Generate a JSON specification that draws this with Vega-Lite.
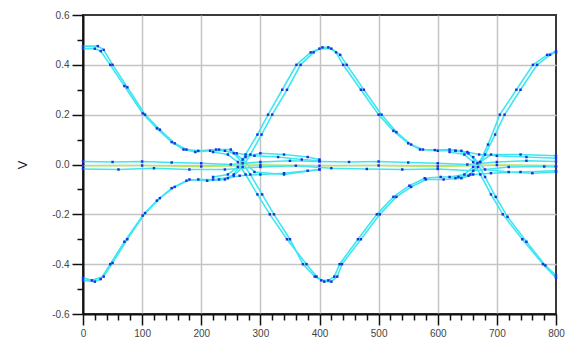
{
"$schema":"https://vega.github.io/schema/vega-lite/v6.json",
"width":473,"height":299,
"autosize":{"type":"none"},
"padding":{"left":83,"top":15,"right":21,"bottom":29},
"background":"white",
"config":{"view":{"stroke":"#3a3a3a","strokeWidth":2},"font":"Liberation Sans"},
"data":{"values":[
{"t":"L1","k":"edge","x":0,"y":0.465},{"t":"L1","k":"edge","x":20,"y":0.465},{"t":"L1","k":"edge","x":30,"y":0.455},{"t":"L1","k":"edge","x":46,"y":0.40},{"t":"L1","k":"edge","x":70,"y":0.315},{"t":"L1","k":"edge","x":101,"y":0.205},{"t":"L1","k":"edge","x":125,"y":0.145},{"t":"L1","k":"edge","x":150,"y":0.09},{"t":"L1","k":"edge","x":170,"y":0.06},{"t":"L1","k":"edge","x":190,"y":0.05},{"t":"L1","k":"edge","x":215,"y":0.055},{"t":"L1","k":"edge","x":240,"y":0.055},{"t":"L1","k":"edge","x":260,"y":0.045},{"t":"L1","k":"edge","x":290,"y":0.035},{"t":"L1","k":"edge","x":330,"y":0.03},{"t":"L1","k":"edge","x":370,"y":0.02},{"t":"L1","k":"edge","x":400,"y":0.015},
{"t":"L1b","k":"edge","x":0,"y":0.475},{"t":"L1b","k":"edge","x":25,"y":0.475},{"t":"L1b","k":"edge","x":35,"y":0.46},{"t":"L1b","k":"edge","x":50,"y":0.40},{"t":"L1b","k":"edge","x":75,"y":0.31},{"t":"L1b","k":"edge","x":105,"y":0.20},{"t":"L1b","k":"edge","x":130,"y":0.14},{"t":"L1b","k":"edge","x":155,"y":0.085},{"t":"L1b","k":"edge","x":175,"y":0.06},{"t":"L1b","k":"edge","x":195,"y":0.055},{"t":"L1b","k":"edge","x":225,"y":0.06},{"t":"L1b","k":"edge","x":250,"y":0.06},{"t":"L1b","k":"edge","x":270,"y":0.02},{"t":"L1b","k":"edge","x":290,"y":-0.03},{"t":"L1b","k":"edge","x":340,"y":-0.04},{"t":"L1b","k":"edge","x":400,"y":-0.02},
{"t":"L2","k":"edge","x":0,"y":-0.465},{"t":"L2","k":"edge","x":20,"y":-0.47},{"t":"L2","k":"edge","x":30,"y":-0.46},{"t":"L2","k":"edge","x":46,"y":-0.40},{"t":"L2","k":"edge","x":70,"y":-0.31},{"t":"L2","k":"edge","x":101,"y":-0.205},{"t":"L2","k":"edge","x":125,"y":-0.145},{"t":"L2","k":"edge","x":150,"y":-0.095},{"t":"L2","k":"edge","x":175,"y":-0.065},{"t":"L2","k":"edge","x":195,"y":-0.06},{"t":"L2","k":"edge","x":220,"y":-0.06},{"t":"L2","k":"edge","x":245,"y":-0.055},{"t":"L2","k":"edge","x":265,"y":-0.045},{"t":"L2","k":"edge","x":300,"y":-0.04},{"t":"L2","k":"edge","x":340,"y":-0.035},{"t":"L2","k":"edge","x":380,"y":-0.025},{"t":"L2","k":"edge","x":400,"y":-0.02},
{"t":"L2b","k":"edge","x":0,"y":-0.455},{"t":"L2b","k":"edge","x":15,"y":-0.465},{"t":"L2b","k":"edge","x":35,"y":-0.45},{"t":"L2b","k":"edge","x":50,"y":-0.395},{"t":"L2b","k":"edge","x":75,"y":-0.30},{"t":"L2b","k":"edge","x":105,"y":-0.195},{"t":"L2b","k":"edge","x":130,"y":-0.135},{"t":"L2b","k":"edge","x":155,"y":-0.09},{"t":"L2b","k":"edge","x":180,"y":-0.06},{"t":"L2b","k":"edge","x":210,"y":-0.065},{"t":"L2b","k":"edge","x":240,"y":-0.06},{"t":"L2b","k":"edge","x":255,"y":-0.04},{"t":"L2b","k":"edge","x":275,"y":0.03},{"t":"L2b","k":"edge","x":300,"y":0.045},{"t":"L2b","k":"edge","x":340,"y":0.04},{"t":"L2b","k":"edge","x":380,"y":0.03},{"t":"L2b","k":"edge","x":400,"y":0.02},
{"t":"R1","k":"edge","x":220,"y":-0.05},{"t":"R1","k":"edge","x":245,"y":-0.04},{"t":"R1","k":"edge","x":262,"y":-0.01},{"t":"R1","k":"edge","x":275,"y":0.04},{"t":"R1","k":"edge","x":295,"y":0.12},{"t":"R1","k":"edge","x":313,"y":0.20},{"t":"R1","k":"edge","x":337,"y":0.30},{"t":"R1","k":"edge","x":361,"y":0.40},{"t":"R1","k":"edge","x":385,"y":0.45},{"t":"R1","k":"edge","x":400,"y":0.465},{"t":"R1","k":"edge","x":420,"y":0.465},{"t":"R1","k":"edge","x":435,"y":0.44},{"t":"R1","k":"edge","x":446,"y":0.40},{"t":"R1","k":"edge","x":475,"y":0.30},{"t":"R1","k":"edge","x":505,"y":0.20},{"t":"R1","k":"edge","x":530,"y":0.13},{"t":"R1","k":"edge","x":555,"y":0.08},{"t":"R1","k":"edge","x":575,"y":0.06},{"t":"R1","k":"edge","x":600,"y":0.055},{"t":"R1","k":"edge","x":630,"y":0.055},{"t":"R1","k":"edge","x":650,"y":0.05},{"t":"R1","k":"edge","x":670,"y":0.04},{"t":"R1","k":"edge","x":700,"y":0.035},{"t":"R1","k":"edge","x":750,"y":0.03},{"t":"R1","k":"edge","x":800,"y":0.025},
{"t":"R1b","k":"edge","x":230,"y":-0.06},{"t":"R1b","k":"edge","x":255,"y":-0.045},{"t":"R1b","k":"edge","x":270,"y":-0.01},{"t":"R1b","k":"edge","x":283,"y":0.04},{"t":"R1b","k":"edge","x":302,"y":0.12},{"t":"R1b","k":"edge","x":320,"y":0.20},{"t":"R1b","k":"edge","x":345,"y":0.30},{"t":"R1b","k":"edge","x":368,"y":0.40},{"t":"R1b","k":"edge","x":390,"y":0.45},{"t":"R1b","k":"edge","x":405,"y":0.47},{"t":"R1b","k":"edge","x":415,"y":0.47},{"t":"R1b","k":"edge","x":428,"y":0.45},{"t":"R1b","k":"edge","x":440,"y":0.40},{"t":"R1b","k":"edge","x":470,"y":0.30},{"t":"R1b","k":"edge","x":500,"y":0.20},{"t":"R1b","k":"edge","x":525,"y":0.135},{"t":"R1b","k":"edge","x":550,"y":0.085},{"t":"R1b","k":"edge","x":570,"y":0.06},{"t":"R1b","k":"edge","x":595,"y":0.058},{"t":"R1b","k":"edge","x":620,"y":0.06},{"t":"R1b","k":"edge","x":640,"y":0.055},{"t":"R1b","k":"edge","x":660,"y":0.03},{"t":"R1b","k":"edge","x":680,"y":-0.02},{"t":"R1b","k":"edge","x":720,"y":-0.03},{"t":"R1b","k":"edge","x":760,"y":-0.035},{"t":"R1b","k":"edge","x":800,"y":-0.03},
{"t":"F1","k":"edge","x":220,"y":0.05},{"t":"F1","k":"edge","x":245,"y":0.04},{"t":"F1","k":"edge","x":262,"y":0.01},{"t":"F1","k":"edge","x":275,"y":-0.04},{"t":"F1","k":"edge","x":295,"y":-0.12},{"t":"F1","k":"edge","x":316,"y":-0.20},{"t":"F1","k":"edge","x":345,"y":-0.30},{"t":"F1","k":"edge","x":378,"y":-0.40},{"t":"F1","k":"edge","x":395,"y":-0.45},{"t":"F1","k":"edge","x":408,"y":-0.47},{"t":"F1","k":"edge","x":420,"y":-0.47},{"t":"F1","k":"edge","x":430,"y":-0.45},{"t":"F1","k":"edge","x":438,"y":-0.40},{"t":"F1","k":"edge","x":470,"y":-0.30},{"t":"F1","k":"edge","x":502,"y":-0.20},{"t":"F1","k":"edge","x":530,"y":-0.13},{"t":"F1","k":"edge","x":555,"y":-0.09},{"t":"F1","k":"edge","x":580,"y":-0.06},{"t":"F1","k":"edge","x":610,"y":-0.06},{"t":"F1","k":"edge","x":640,"y":-0.055},{"t":"F1","k":"edge","x":660,"y":-0.04},{"t":"F1","k":"edge","x":690,"y":-0.035},{"t":"F1","k":"edge","x":740,"y":-0.03},{"t":"F1","k":"edge","x":800,"y":-0.025},
{"t":"F1b","k":"edge","x":230,"y":0.06},{"t":"F1b","k":"edge","x":255,"y":0.045},{"t":"F1b","k":"edge","x":270,"y":0.005},{"t":"F1b","k":"edge","x":283,"y":-0.04},{"t":"F1b","k":"edge","x":303,"y":-0.12},{"t":"F1b","k":"edge","x":323,"y":-0.20},{"t":"F1b","k":"edge","x":350,"y":-0.30},{"t":"F1b","k":"edge","x":372,"y":-0.40},{"t":"F1b","k":"edge","x":392,"y":-0.45},{"t":"F1b","k":"edge","x":403,"y":-0.465},{"t":"F1b","k":"edge","x":415,"y":-0.465},{"t":"F1b","k":"edge","x":425,"y":-0.45},{"t":"F1b","k":"edge","x":434,"y":-0.40},{"t":"F1b","k":"edge","x":465,"y":-0.30},{"t":"F1b","k":"edge","x":497,"y":-0.20},{"t":"F1b","k":"edge","x":525,"y":-0.13},{"t":"F1b","k":"edge","x":552,"y":-0.085},{"t":"F1b","k":"edge","x":578,"y":-0.055},{"t":"F1b","k":"edge","x":605,"y":-0.05},{"t":"F1b","k":"edge","x":635,"y":-0.05},{"t":"F1b","k":"edge","x":655,"y":-0.04},{"t":"F1b","k":"edge","x":672,"y":0.01},{"t":"F1b","k":"edge","x":690,"y":0.04},{"t":"F1b","k":"edge","x":740,"y":0.04},{"t":"F1b","k":"edge","x":800,"y":0.035},
{"t":"R2","k":"edge","x":620,"y":-0.05},{"t":"R2","k":"edge","x":645,"y":-0.04},{"t":"R2","k":"edge","x":660,"y":-0.01},{"t":"R2","k":"edge","x":671,"y":0.01},{"t":"R2","k":"edge","x":685,"y":0.08},{"t":"R2","k":"edge","x":705,"y":0.20},{"t":"R2","k":"edge","x":733,"y":0.30},{"t":"R2","k":"edge","x":761,"y":0.40},{"t":"R2","k":"edge","x":785,"y":0.44},{"t":"R2","k":"edge","x":800,"y":0.455},
{"t":"R2b","k":"edge","x":630,"y":-0.055},{"t":"R2b","k":"edge","x":652,"y":-0.045},{"t":"R2b","k":"edge","x":668,"y":-0.01},{"t":"R2b","k":"edge","x":680,"y":0.04},{"t":"R2b","k":"edge","x":697,"y":0.12},{"t":"R2b","k":"edge","x":713,"y":0.20},{"t":"R2b","k":"edge","x":740,"y":0.30},{"t":"R2b","k":"edge","x":768,"y":0.40},{"t":"R2b","k":"edge","x":790,"y":0.44},{"t":"R2b","k":"edge","x":800,"y":0.45},
{"t":"F2","k":"edge","x":620,"y":0.05},{"t":"F2","k":"edge","x":645,"y":0.04},{"t":"F2","k":"edge","x":660,"y":0.01},{"t":"F2","k":"edge","x":672,"y":-0.04},{"t":"F2","k":"edge","x":690,"y":-0.12},{"t":"F2","k":"edge","x":710,"y":-0.20},{"t":"F2","k":"edge","x":743,"y":-0.30},{"t":"F2","k":"edge","x":778,"y":-0.40},{"t":"F2","k":"edge","x":800,"y":-0.455},
{"t":"F2b","k":"edge","x":630,"y":0.055},{"t":"F2b","k":"edge","x":652,"y":0.045},{"t":"F2b","k":"edge","x":667,"y":0.005},{"t":"F2b","k":"edge","x":680,"y":-0.05},{"t":"F2b","k":"edge","x":698,"y":-0.13},{"t":"F2b","k":"edge","x":718,"y":-0.21},{"t":"F2b","k":"edge","x":750,"y":-0.31},{"t":"F2b","k":"edge","x":782,"y":-0.405},{"t":"F2b","k":"edge","x":800,"y":-0.445},
{"t":"Z1","k":"edge","x":0,"y":0.012},{"t":"Z1","k":"edge","x":50,"y":0.01},{"t":"Z1","k":"edge","x":100,"y":0.012},{"t":"Z1","k":"edge","x":150,"y":0.008},{"t":"Z1","k":"edge","x":200,"y":0.005},{"t":"Z1","k":"edge","x":250,"y":0.0},{"t":"Z1","k":"edge","x":300,"y":0.01},{"t":"Z1","k":"edge","x":350,"y":0.015},{"t":"Z1","k":"edge","x":400,"y":0.012},{"t":"Z1","k":"edge","x":450,"y":0.01},{"t":"Z1","k":"edge","x":500,"y":0.012},{"t":"Z1","k":"edge","x":550,"y":0.008},{"t":"Z1","k":"edge","x":600,"y":0.005},{"t":"Z1","k":"edge","x":650,"y":0.0},{"t":"Z1","k":"edge","x":700,"y":0.01},{"t":"Z1","k":"edge","x":750,"y":0.015},{"t":"Z1","k":"edge","x":800,"y":0.012},
{"t":"Z2","k":"core","x":0,"y":-0.005},{"t":"Z2","k":"core","x":100,"y":-0.004},{"t":"Z2","k":"core","x":200,"y":-0.008},{"t":"Z2","k":"core","x":300,"y":-0.002},{"t":"Z2","k":"core","x":400,"y":-0.005},{"t":"Z2","k":"core","x":500,"y":-0.004},{"t":"Z2","k":"core","x":600,"y":-0.008},{"t":"Z2","k":"core","x":700,"y":-0.002},{"t":"Z2","k":"core","x":800,"y":-0.005},
{"t":"Z3","k":"edge","x":0,"y":-0.018},{"t":"Z3","k":"edge","x":60,"y":-0.02},{"t":"Z3","k":"edge","x":120,"y":-0.015},{"t":"Z3","k":"edge","x":180,"y":-0.02},{"t":"Z3","k":"edge","x":240,"y":-0.02},{"t":"Z3","k":"edge","x":300,"y":-0.01},{"t":"Z3","k":"edge","x":360,"y":-0.005},{"t":"Z3","k":"edge","x":420,"y":-0.015},{"t":"Z3","k":"edge","x":480,"y":-0.018},{"t":"Z3","k":"edge","x":540,"y":-0.02},{"t":"Z3","k":"edge","x":600,"y":-0.018},{"t":"Z3","k":"edge","x":660,"y":-0.025},{"t":"Z3","k":"edge","x":720,"y":-0.01},{"t":"Z3","k":"edge","x":780,"y":-0.008},{"t":"Z3","k":"edge","x":800,"y":-0.01}
]},
"layer":[
{"mark":{"type":"line","strokeWidth":1.6},
 "encoding":{
  "x":{"field":"x","type":"quantitative","scale":{"domain":[0,800],"nice":false,"zero":false},
       "axis":{"values":[0,100,200,300,400,500,600,700,800],"title":null,"tickSize":11,"tickWidth":1.5,"tickColor":"#111","domainColor":"#111","domainWidth":2,"labelFontSize":10,"labelColor":"#444","labelPadding":3,"grid":true,"gridColor":{"condition":{"test":"datum.value == 0 || datum.value == 800","value":"transparent"},"value":"#C4C4C4"},"gridWidth":1.5,"labelFlush":false,"orient":"bottom"}},
  "y":{"field":"y","type":"quantitative","scale":{"domain":[-0.6,0.6],"nice":false,"zero":false},
       "axis":{"values":[-0.6,-0.4,-0.2,0,0.2,0.4,0.6],"labelExpr":"replace(format(datum.value,'.1f'),'−','-')","title":"V","titleFontSize":13,"titleFontWeight":"normal","titleColor":"#222","titlePadding":22,"tickSize":11,"tickWidth":1.5,"tickColor":"#111","domainColor":"#111","domainWidth":2,"labelFontSize":10,"labelColor":"#444","labelPadding":3,"grid":true,"gridColor":{"condition":{"test":"abs(datum.value) > 0.55","value":"transparent"},"value":"#C4C4C4"},"gridWidth":1.5,"labelFlush":false,"orient":"left"}},
  "detail":{"field":"t"},
  "color":{"field":"k","type":"nominal","scale":{"domain":["edge","core"],"range":["#3FE6F2","#B8E65C"]},"legend":null}
 }},
{"mark":{"type":"point","shape":"square","filled":true,"size":6,"color":"#1E2FE0","opacity":1},
 "encoding":{
  "x":{"field":"x","type":"quantitative","scale":{"domain":[0,800],"nice":false,"zero":false},"axis":{"values":[20,40,60,80,120,140,160,180,220,240,260,280,320,340,360,380,420,440,460,480,520,540,560,580,620,640,660,680,720,740,760,780],"labels":false,"domain":false,"grid":false,"tickSize":6,"tickWidth":1.5,"tickColor":"#111","title":null,"orient":"bottom"}},
  "y":{"field":"y","type":"quantitative","scale":{"domain":[-0.6,0.6],"nice":false,"zero":false},"axis":{"values":[-0.5,-0.3,-0.1,0.1,0.3,0.5],"labels":false,"domain":false,"grid":false,"tickSize":6,"tickWidth":1.5,"tickColor":"#111","title":null,"orient":"left"}}
 }}
],
"resolve":{"scale":{"x":"independent","y":"independent"},"axis":{"x":"independent","y":"independent"}}
}
